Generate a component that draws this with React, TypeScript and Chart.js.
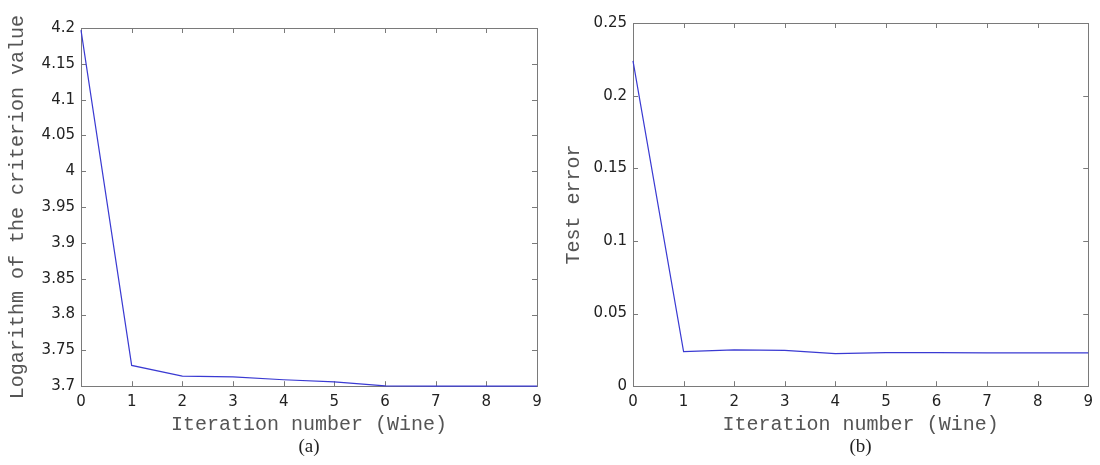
import React, { useEffect, useRef } from "react";
import { Chart, registerables } from "chart.js";

Chart.register(...registerables);

// ---- data ----
const iterations = [0, 1, 2, 3, 4, 5, 6, 7, 8, 9];
const criterionLog = [4.197, 3.729, 3.714, 3.713, 3.709, 3.706, 3.7005, 3.7, 3.7, 3.7];
const testError = [0.224, 0.0238, 0.025, 0.0247, 0.0224, 0.0231, 0.0231, 0.0229, 0.0229, 0.0229];

const criterionTicks = [3.7, 3.75, 3.8, 3.85, 3.9, 3.95, 4, 4.05, 4.1, 4.15, 4.2];
const errorTicks = [0, 0.05, 0.1, 0.15, 0.2, 0.25];
const xTicks = [0, 1, 2, 3, 4, 5, 6, 7, 8, 9];

const xTitle = "Iteration number (Wine)";
const yTitleA = "Logarithm of the criterion value";
const yTitleB = "Test error";
const captionA = "(a)";
const captionB = "(b)";

const fmt = (v: number) => String(Number(v.toFixed(3)));

const framePlugin = {
  id: "matlabFrame",
  afterLayout(chart: any) {
    // centre the caption (title block) under the plot area
    const tb = chart.titleBlock;
    if (tb) {
      tb.left = chart.chartArea.left;
      tb.right = chart.chartArea.right;
      tb.width = tb.right - tb.left;
    }
  },
  beforeDatasetsDraw(chart: any) {
    const { ctx, chartArea, scales } = chart;
    const { left, right, top, bottom } = chartArea;
    const x = scales.x;
    const y = scales.y;
    const L = 5;
    ctx.save();
    ctx.strokeStyle = "#7a7a7a";
    ctx.lineWidth = 1;
    ctx.beginPath();
    x.ticks.forEach((t: any) => {
      const px = Math.round(x.getPixelForValue(t.value)) + 0.5;
      ctx.moveTo(px, bottom);
      ctx.lineTo(px, bottom - L);
      ctx.moveTo(px, top);
      ctx.lineTo(px, top + L);
    });
    y.ticks.forEach((t: any) => {
      const py = Math.round(y.getPixelForValue(t.value)) + 0.5;
      ctx.moveTo(left, py);
      ctx.lineTo(left + L, py);
      ctx.moveTo(right, py);
      ctx.lineTo(right - L, py);
    });
    ctx.stroke();
    const l = Math.round(left) + 0.5;
    const r = Math.round(right) + 0.5;
    const t = Math.round(top) + 0.5;
    const b = Math.round(bottom) + 0.5;
    ctx.strokeRect(l, t, r - l, b - t);
    ctx.restore();
  },
};

type PanelProps = {
  values: number[];
  yTicks: number[];
  yTitle: string;
  caption: string;
  yAxisWidth: number;
  padTop: number;
  padRight: number;
  yTitlePad: number;
  left: number;
};

function Panel(p: PanelProps) {
  const ref = useRef<HTMLCanvasElement>(null);
  useEffect(() => {
    if (!ref.current) return;
    const tickFont = { family: "DejaVu Sans", size: 15 };
    const chart = new Chart(ref.current, {
      type: "line",
      data: {
        datasets: [
          {
            data: iterations.map((it, i) => ({ x: it, y: p.values[i] })),
            borderColor: "#3a3ad2",
            borderWidth: 1.2,
            pointRadius: 0,
            fill: false,
            tension: 0,
            clip: false as any,
          },
        ],
      },
      options: {
        responsive: false,
        animation: false,
        devicePixelRatio: 1,
        layout: { padding: { left: 0, top: p.padTop, right: p.padRight, bottom: 0 } },
        plugins: {
          legend: { display: false },
          tooltip: { enabled: false },
          title: {
            display: true,
            position: "bottom",
            align: "center",
            text: p.caption,
            color: "#222",
            font: { family: "Liberation Serif", size: 19, lineHeight: 1.2, weight: "normal" },
            padding: { top: 0, bottom: 7 },
          },
        },
        scales: {
          x: {
            type: "linear",
            min: xTicks[0],
            max: xTicks[xTicks.length - 1],
            afterBuildTicks: (s: any) => {
              s.ticks = xTicks.map((v) => ({ value: v }));
            },
            ticks: {
              padding: 7,
              color: "#222",
              font: tickFont,
              maxRotation: 0,
              autoSkip: false,
              callback: (v: any) => fmt(Number(v)),
            },
            grid: { display: false, drawTicks: false },
            border: { display: false },
            title: {
              display: true,
              text: xTitle,
              color: "#555",
              font: { family: "Liberation Mono", size: 20, lineHeight: 1 },
              padding: 0,
            },
            afterFit: (s: any) => {
              s.height = 49;
            },
          },
          y: {
            type: "linear",
            min: p.yTicks[0],
            max: p.yTicks[p.yTicks.length - 1],
            afterBuildTicks: (s: any) => {
              s.ticks = p.yTicks.map((v) => ({ value: v }));
            },
            ticks: {
              padding: 6,
              color: "#222",
              font: tickFont,
              autoSkip: false,
              callback: (v: any) => fmt(Number(v)),
            },
            grid: { display: false, drawTicks: false },
            border: { display: false },
            title: {
              display: true,
              text: p.yTitle,
              color: "#555",
              font: { family: "Liberation Mono", size: 20, lineHeight: 1 },
              padding: { top: p.yTitlePad, bottom: 0 },
            },
            afterFit: (s: any) => {
              s.width = p.yAxisWidth;
            },
          },
        },
      },
      plugins: [framePlugin],
    } as any);
    return () => chart.destroy();
  }, []);
  return (
    <canvas
      ref={ref}
      width={550}
      height={465}
      style={{ position: "absolute", left: p.left, top: 0, width: 550, height: 465, display: "block" }}
    />
  );
}

export default function App() {
  return (
    <div style={{ position: "absolute", left: 0, top: 0, width: 1100, height: 465, background: "#fff" }}>
      <Panel
        values={criterionLog}
        yTicks={criterionTicks}
        yTitle={yTitleA}
        caption={captionA}
        yAxisWidth={81}
        padTop={28}
        padRight={13}
        yTitlePad={8}
        left={0}
      />
      <Panel
        values={testError}
        yTicks={errorTicks}
        yTitle={yTitleB}
        caption={captionB}
        yAxisWidth={83}
        padTop={23}
        padRight={7}
        yTitlePad={14}
        left={550}
      />
    </div>
  );
}
